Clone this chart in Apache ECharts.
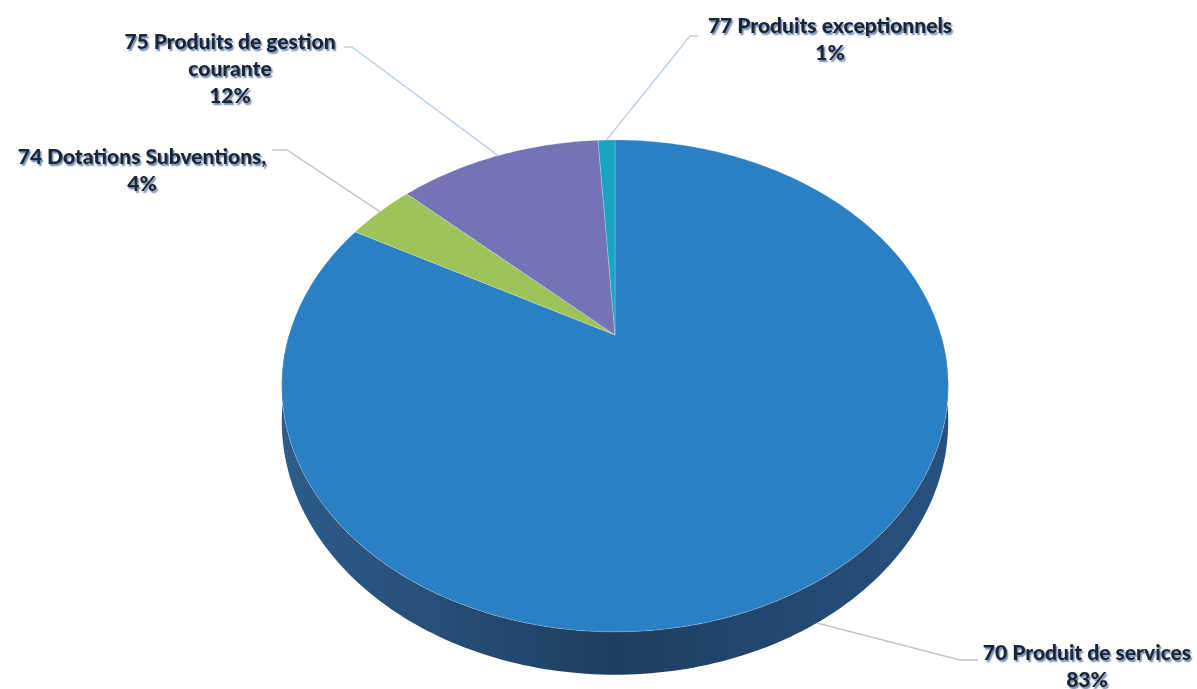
<!DOCTYPE html>
<html><head><meta charset="utf-8">
<script src="https://cdn.jsdelivr.net/npm/echarts@6/dist/echarts.min.js"></script>
<style>html,body{margin:0;padding:0;background:#fff}#c{width:1197px;height:689px}</style>
</head><body><div id="c"></div>
<script>
// ---- data ----
const categories = ['70 Produit de services', '74 Dotations Subventions,', '75 Produits de gestion courante', '77 Produits exceptionnels'];
const values = [83, 4, 12, 1];
const labelNames = ['70 Produit de services', '74 Dotations Subventions,', '75 Produits de gestion\ncourante', '77 Produits exceptionnels'];
// ---- style / layout ----
const topColors = ['#2b80c3', '#9dc35a', '#7473b6', '#1ba3c4'];
const sideColors = ['#23496e', '#6f8a3e', '#4f4e80', '#137088'];
const labelBoxes = [[1087, 640], [142, 144], [230, 29], [830, 13]];
const labelLineEnds = [[[960, 660], [978, 660]], [[287, 150], [272, 150]], [[352, 47], [344, 47]], [[690, 36], [698, 36]]];
const labelLineColors = ['#c4c4c4', '#c4c4c4', '#bcd2ea', '#bcd2ea'];
const geo = {cx: 615, cy: 335, R: 326, B: 235.4, k: 0.207, T: 34};

const total = values.reduce((a, b) => a + b, 0);
const starts = []; let acc = 0; values.forEach(v => { starts.push(acc); acc += v; });
function thetaOf(frac) { return 90 - frac * 360; }
function proj(thDeg, drop) {
  const t = thDeg * Math.PI / 180, c = Math.cos(t), s = Math.sin(t);
  const f = 1 / (1 + geo.k * s);
  return [geo.cx + geo.R * c * f, geo.cy - geo.B * s * f + (drop || 0) * f];
}
function arcPts(th1, th2, drop) {
  const pts = []; const n = Math.max(2, Math.ceil(Math.abs(th1 - th2)));
  for (let i = 0; i <= n; i++) pts.push(proj(th1 + (th2 - th1) * i / n, drop));
  return pts;
}
function sliceAngles(i) {
  return [thetaOf(starts[i] / total), thetaOf((starts[i] + values[i]) / total)];
}

const chart = echarts.init(document.getElementById('c'));
const data = categories.map((n, i) => ({name: n, value: values[i]}));

chart.setOption({
  animation: false,
  series: [
    {
      type: 'custom', coordinateSystem: 'none', z: 1, data: data,
      renderItem: function (params, api) {
        const i = params.dataIndex;
        const [ts, te] = sliceAngles(i);
        const hi = Math.min(ts, 0), lo = Math.max(te, -180);
        if (hi <= lo) return {type: 'group', children: []};
        const pts = arcPts(hi, lo, 0).concat(arcPts(lo, hi, geo.T));
        return {
          type: 'polygon', shape: {points: pts},
          style: {
            fill: i === 0 ? new echarts.graphic.LinearGradient(0, 0, 1, 0, [
              {offset: 0, color: '#2d5c8a'}, {offset: 0.5, color: '#1e3e61'}, {offset: 1, color: '#27527e'}
            ]) : sideColors[i]
          }
        };
      }
    },
    {
      type: 'custom', coordinateSystem: 'none', z: 2, data: data,
      renderItem: function (params, api) {
        const i = params.dataIndex;
        const [ts, te] = sliceAngles(i);
        const pts = [[geo.cx, geo.cy]].concat(arcPts(ts, te, 0));
        const mid = (ts + te) / 2;
        const s = Math.sin(mid * Math.PI / 180);
        const anchor = proj(mid, s < 0 ? geo.T : 0);
        const pct = Math.round(api.value(0) / total * 100) + '%';
        return {
          type: 'group',
          children: [
            {type: 'polygon', shape: {points: pts}, style: {fill: topColors[i], stroke: 'rgba(255,255,255,0.35)', lineWidth: 0.6}},
            {type: 'polyline', z2: 5, shape: {points: [anchor].concat(labelLineEnds[i])}, style: {stroke: labelLineColors[i], lineWidth: 1.5, fill: null}},
            {type: 'text', z2: 6, style: {
              text: labelNames[i] + '\n' + pct,
              x: labelBoxes[i][0], y: labelBoxes[i][1],
              align: 'center', verticalAlign: 'top',
              fontFamily: 'Lato', fontWeight: 900, fontSize: 21, lineHeight: 27,
              fill: '#1d2433',
              textShadowColor: 'rgba(70,105,160,0.8)', textShadowBlur: 1.5,
              textShadowOffsetX: 1.5, textShadowOffsetY: 1.5
            }}
          ]
        };
      }
    }
  ]
});
</script></body></html>
